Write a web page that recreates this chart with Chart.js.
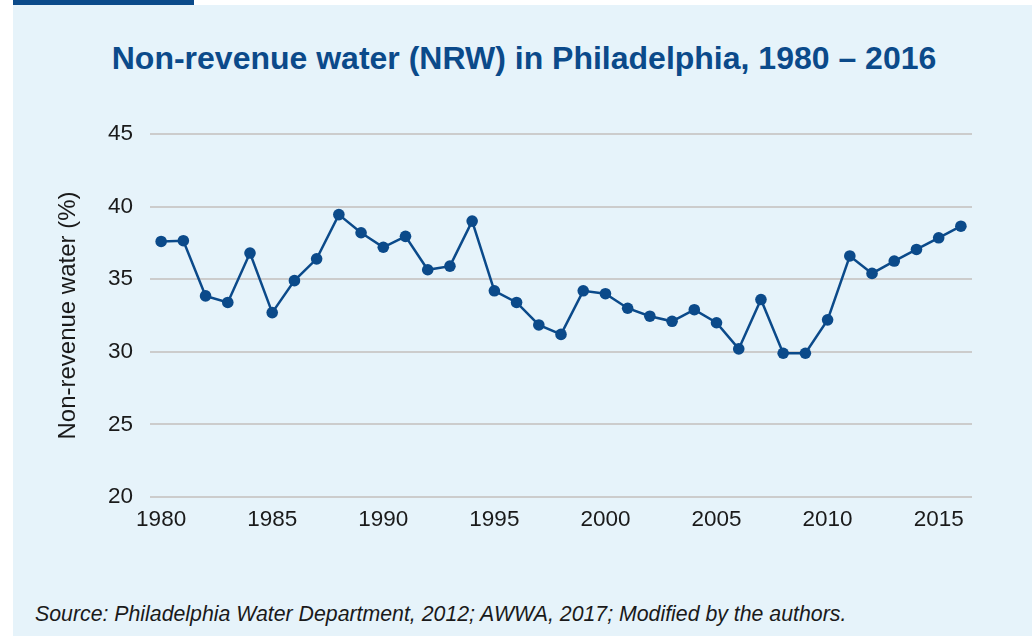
<!DOCTYPE html>
<html>
<head>
<meta charset="utf-8">
<script src="https://cdn.jsdelivr.net/npm/chart.js@4.4.1/dist/chart.umd.min.js"></script>
<style>
  html, body { margin: 0; padding: 0; background: #ffffff; }
  body { width: 1032px; height: 641px; position: relative; overflow: hidden; }
  #topBar { position: absolute; left: 13px; top: 0; width: 181px; height: 5px; background: #0b4a8a; }
  #panel { position: absolute; left: 13px; top: 5px; width: 1019px; height: 631px; background: #e6f3fa; }
  #title {
    position: absolute; left: 0; top: 34px; width: 1022px; text-align: center;
    font-family: "Liberation Sans", Arial, sans-serif; font-weight: bold;
    font-size: 32px; line-height: 38px; color: #0b4a8a; white-space: nowrap;
  }
  #chartBox { position: absolute; left: 0; top: 0; width: 1019px; height: 560px; }
  #source {
    position: absolute; left: 22px; top: 597px;
    font-family: "Liberation Sans", Arial, sans-serif; font-style: italic;
    font-size: 21.3px; color: #1a1a1a; white-space: nowrap;
  }
</style>
</head>
<body>
<div id="topBar"></div>
<div id="panel">
  <div id="title">Non-revenue water (NRW) in Philadelphia, 1980 – 2016</div>
  <div id="chartBox"><canvas id="nrwChart" width="1019" height="560"></canvas></div>
  <div id="source">Source: Philadelphia Water Department, 2012; AWWA, 2017; Modified by the authors.</div>
</div>
<script>
// Non-revenue water share, Philadelphia, one value per year
const years = [
  1980, 1981, 1982, 1983, 1984, 1985, 1986, 1987, 1988, 1989,
  1990, 1991, 1992, 1993, 1994, 1995, 1996, 1997, 1998, 1999,
  2000, 2001, 2002, 2003, 2004, 2005, 2006, 2007, 2008, 2009,
  2010, 2011, 2012, 2013, 2014, 2015, 2016
];
const nrwPercent = [
  37.6, 37.65, 33.85, 33.4, 36.8, 32.7, 34.9, 36.4, 39.45, 38.2,
  37.2, 37.95, 35.65, 35.9, 39.0, 34.2, 33.4, 31.85, 31.2, 34.2,
  34.0, 33.0, 32.45, 32.1, 32.9, 32.0, 30.2, 33.6, 29.9, 29.9,
  32.2, 36.6, 35.4, 36.25, 37.05, 37.85, 38.65
];
const xTickYears = [1980, 1985, 1990, 1995, 2000, 2005, 2010, 2015];
const yTicks = [20, 25, 30, 35, 40, 45];

const navy = "#0b4a8a";
const fontFamily = "'Liberation Sans', Arial, sans-serif";

const ctx = document.getElementById("nrwChart").getContext("2d");
new Chart(ctx, {
  type: "line",
  data: {
    labels: years.map(String),
    datasets: [{
      label: "Non-revenue water",
      data: nrwPercent,
      borderColor: navy,
      backgroundColor: navy,
      borderWidth: 2.5,
      pointRadius: 5.8,
      pointBackgroundColor: navy,
      pointBorderWidth: 0,
      tension: 0
    }]
  },
  options: {
    responsive: false,
    animation: false,
    layout: { padding: { left: 32, right: 60, top: 129, bottom: 22 } },
    plugins: {
      legend: { display: false },
      tooltip: { enabled: false },
      title: { display: false }
    },
    scales: {
      x: {
        type: "category",
        offset: true,
        grid: { display: false, drawTicks: false },
        border: { display: false },
        ticks: {
          autoSkip: false,
          maxRotation: 0,
          padding: 9.5,
          color: "#1a1a1a",
          font: { family: fontFamily, size: 22.5 },
          callback: function (value) {
            const yr = years[value];
            return xTickYears.includes(yr) ? String(yr) : "";
          }
        }
      },
      y: {
        min: yTicks[0],
        max: yTicks[yTicks.length - 1],
        afterBuildTicks: (axis) => { axis.ticks = yTicks.map(v => ({ value: v })); },
        grid: { color: "#cccccc", lineWidth: 2, drawTicks: false },
        border: { display: false },
        ticks: {
          padding: 17,
          color: "#1a1a1a",
          font: { family: fontFamily, size: 22.5 }
        },
        title: {
          display: true,
          text: "Non-revenue water (%)",
          color: "#1a1a1a",
          font: { family: fontFamily, size: 24 },
          padding: 8.6
        }
      }
    }
  }
});
</script>
</body>
</html>
